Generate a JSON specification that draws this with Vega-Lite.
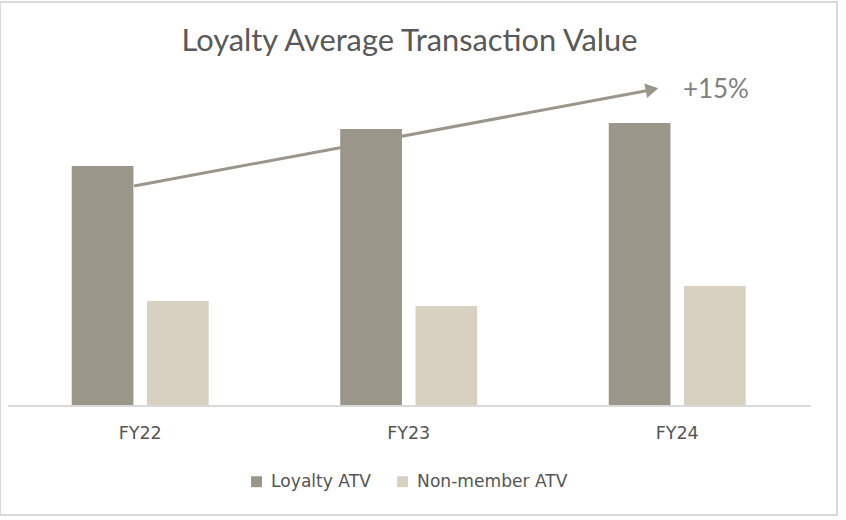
{
  "$schema": "https://vega.github.io/schema/vega-lite/v6.json",
  "autosize": {"type": "none"},
  "padding": {"left": 0, "top": 2, "right": 9, "bottom": 5},
  "width": 837,
  "height": 513,
  "background": "white",
  "config": {
    "font": "Lato",
    "view": {"stroke": "#d9d9d9", "strokeWidth": 2},
    "axis": {"grid": false}
  },
  "title": {
    "text": "Loyalty Average Transaction Value",
    "font": "Lato",
    "fontSize": 30.8,
    "fontWeight": "normal",
    "limit": 0,
    "color": "#595959",
    "anchor": "middle",
    "frame": "group",
    "baseline": "middle",
    "offset": -71,
    "dx": -9
  },
  "datasets": {
    "bars": [
      {"period": "FY22", "series": "Loyalty ATV", "value": 240},
      {"period": "FY22", "series": "Non-member ATV", "value": 105},
      {"period": "FY23", "series": "Loyalty ATV", "value": 277},
      {"period": "FY23", "series": "Non-member ATV", "value": 100},
      {"period": "FY24", "series": "Loyalty ATV", "value": 283},
      {"period": "FY24", "series": "Non-member ATV", "value": 120}
    ],
    "arrow": [
      {"u0": 0.476, "v0": 220, "u1": 2.40, "v1": 316, "label": "+15%", "ut": 2.52, "vt": 316, "uh": 2.405, "vh": 316.5}
    ],
    "base": [
      {"u0": 0.007, "u1": 2.997, "v": 0}
    ]
  },
  "resolve": {"scale": {"x": "independent"}, "axis": {"x": "independent"}},
  "layer": [
    {
      "data": {"name": "bars"},
      "mark": {"type": "bar"},
      "encoding": {
        "x": {
          "field": "period", "type": "nominal",
          "scale": {"paddingInner": 0.49, "paddingOuter": 0.3035, "align": 0.44},
          "axis": {"title": null, "orient": "bottom", "offset": -109, "domain": false, "ticks": false, "labelAngle": 0, "labelFont": "DejaVu Sans", "labelFontSize": 17.5, "labelColor": "#555555", "labelPadding": 18}
        },
        "xOffset": {"field": "series", "type": "nominal", "scale": {"paddingInner": 0.18, "paddingOuter": 0}},
        "y": {"field": "value", "type": "quantitative", "scale": {"domain": [-109, 404], "nice": false}, "axis": null},
        "color": {
          "field": "series", "type": "nominal",
          "scale": {"domain": ["Loyalty ATV", "Non-member ATV"], "range": ["#9b968a", "#d8d1c2"]},
          "legend": {"title": null, "orient": "none", "legendX": 248, "legendY": 471, "direction": "horizontal", "symbolType": "square", "symbolSize": 120, "symbolStrokeWidth": 0, "labelFont": "DejaVu Sans", "labelFontSize": 17.1, "labelColor": "#555555", "labelOffset": 6, "columnPadding": 23, "labelLimit": 300}
        }
      }
    },
    {
      "data": {"name": "base"},
      "mark": {"type": "rule", "color": "#d9d9d9", "strokeWidth": 2},
      "encoding": {
        "x": {"field": "u0", "type": "quantitative", "scale": {"domain": [-0.0233, 3.094], "nice": false, "zero": false}, "axis": null},
        "x2": {"field": "u1"},
        "y": {"field": "v", "type": "quantitative", "scale": {"domain": [-109, 404], "nice": false}}
      }
    },
    {
      "data": {"name": "arrow"},
      "mark": {"type": "rule", "color": "#9b968a", "strokeWidth": 3},
      "encoding": {
        "x": {"field": "u0", "type": "quantitative", "scale": {"domain": [-0.0233, 3.094], "nice": false, "zero": false}, "axis": null},
        "x2": {"field": "u1"},
        "y": {"field": "v0", "type": "quantitative", "scale": {"domain": [-109, 404], "nice": false}},
        "y2": {"field": "v1"}
      }
    },
    {
      "data": {"name": "arrow"},
      "mark": {"type": "point", "shape": "triangle-right", "filled": true, "color": "#9b968a", "size": 220, "angle": -10.5, "opacity": 1},
      "encoding": {
        "x": {"field": "uh", "type": "quantitative", "scale": {"domain": [-0.0233, 3.094], "nice": false, "zero": false}, "axis": null},
        "y": {"field": "vh", "type": "quantitative", "scale": {"domain": [-109, 404], "nice": false}}
      }
    },
    {
      "data": {"name": "arrow"},
      "mark": {"type": "text", "align": "left", "baseline": "middle", "font": "Lato", "fontSize": 26, "fontWeight": "normal", "color": "#7f7f7f"},
      "encoding": {
        "x": {"field": "ut", "type": "quantitative", "scale": {"domain": [-0.0233, 3.094], "nice": false, "zero": false}, "axis": null},
        "y": {"field": "vt", "type": "quantitative", "scale": {"domain": [-109, 404], "nice": false}},
        "text": {"field": "label"}
      }
    }
  ]
}
